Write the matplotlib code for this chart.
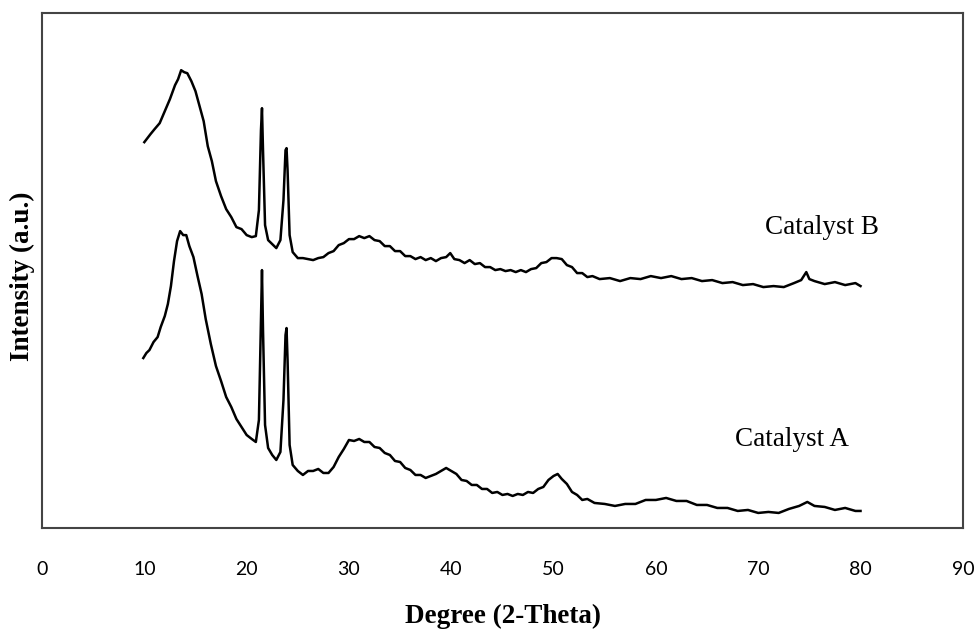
import matplotlib.pyplot as plt

# XRD patterns (intensity in arbitrary units)
two_theta_b = [10.0, 10.3, 10.6, 11.0, 11.5, 12.0, 12.5, 13.0, 13.3, 13.6, 13.9, 14.2, 14.6,
               15.0, 15.4, 15.8, 16.2, 16.6, 17.0, 17.5, 18.0, 18.5, 19.0, 19.5, 20.0, 20.5,
               20.9, 21.2, 21.4, 21.5, 21.6, 21.8, 22.1, 22.5, 22.9, 23.3, 23.6, 23.8, 23.9,
               24.0, 24.2, 24.5, 25.0, 25.5, 26.0, 26.5, 27.0, 27.5, 28.0, 28.5, 29.0, 29.5,
               30.0, 30.5, 31.0, 31.5, 32.0, 32.5, 33.0, 33.5, 34.0, 34.5, 35.0, 35.5, 36.0,
               36.5, 37.0, 37.5, 38.0, 38.5, 39.0, 39.5, 39.9, 40.3, 40.8, 41.3, 41.8, 42.3,
               42.8, 43.3, 43.8, 44.3, 44.8, 45.3, 45.8, 46.3, 46.8, 47.3, 47.8, 48.3, 48.8,
               49.3, 49.8, 50.3, 50.8, 51.3, 51.8, 52.3, 52.8, 53.3, 53.8, 54.5, 55.5, 56.5,
               57.5, 58.5, 59.5, 60.5, 61.5, 62.5, 63.5, 64.5, 65.5, 66.5, 67.5, 68.5, 69.5,
               70.5, 71.5, 72.5, 73.5, 74.2, 74.7, 75.0, 75.5, 76.5, 77.5, 78.5, 79.5, 80.0]
intensity_b = [386, 390, 394, 399, 405, 417, 429, 443, 449, 458, 456, 455, 447,
               437, 422, 407, 382, 367, 347, 332, 319, 311, 301, 299, 293, 291,
               292, 318, 398, 420, 378, 303, 288, 284, 280, 288, 328, 378, 380,
               358, 293, 276, 270, 270, 269, 268, 270, 271, 275, 277, 283, 285,
               289, 289, 292, 290, 292, 288, 287, 282, 282, 277, 277, 272, 272,
               269, 271, 268, 270, 267, 270, 271, 275, 269, 268, 265, 268, 264,
               265, 261, 261, 258, 259, 257, 258, 256, 258, 256, 259, 260, 265,
               266, 270, 270, 269, 263, 261, 255, 255, 251, 252, 249, 250, 247,
               250, 249, 252, 250, 252, 249, 250, 247, 248, 245, 246, 243, 244,
               241, 242, 241, 245, 248, 256, 249, 247, 244, 246, 243, 245, 242]

two_theta_a = [9.9, 10.2, 10.5, 10.9, 11.3, 11.6, 12.0, 12.3, 12.6, 12.9, 13.2, 13.5, 13.8,
               14.1, 14.4, 14.8, 15.2, 15.6, 16.0, 16.5, 17.0, 17.5, 18.0, 18.5, 19.0, 19.5,
               20.0, 20.5, 20.9, 21.2, 21.4, 21.5, 21.6, 21.8, 22.1, 22.5, 22.9, 23.3, 23.6,
               23.8, 23.9, 24.0, 24.2, 24.5, 25.0, 25.5, 26.0, 26.5, 27.0, 27.5, 28.0, 28.5,
               29.0, 29.5, 30.0, 30.5, 31.0, 31.5, 32.0, 32.5, 33.0, 33.5, 34.0, 34.5, 35.0,
               35.5, 36.0, 36.5, 37.0, 37.5, 38.0, 38.5, 39.0, 39.5, 40.0, 40.5, 41.0, 41.5,
               42.0, 42.5, 43.0, 43.5, 44.0, 44.5, 45.0, 45.5, 46.0, 46.5, 47.0, 47.5, 48.0,
               48.5, 49.0, 49.5, 50.0, 50.4, 50.8, 51.3, 51.8, 52.3, 52.8, 53.3, 54.0, 55.0,
               56.0, 57.0, 58.0, 59.0, 60.0, 61.0, 62.0, 63.0, 64.0, 65.0, 66.0, 67.0, 68.0,
               69.0, 70.0, 71.0, 72.0, 73.0, 74.0, 74.8, 75.5, 76.5, 77.5, 78.5, 79.5, 80.0]
intensity_a = [170, 175, 178, 186, 191, 201, 212, 224, 242, 267, 287, 297, 293,
               293, 282, 271, 252, 234, 209, 184, 162, 147, 131, 121, 109, 101,
               93, 89, 86, 108, 208, 258, 198, 103, 80, 73, 68, 76, 128,
               193, 200, 168, 83, 63, 57, 53, 57, 57, 59, 55, 55, 61,
               71, 79, 88, 87, 89, 86, 86, 81, 80, 75, 73, 67, 66,
               60, 58, 53, 53, 50, 52, 54, 57, 60, 57, 54, 48, 47,
               43, 43, 39, 39, 35, 36, 33, 34, 32, 34, 33, 36, 35,
               39, 41, 48, 52, 54, 49, 44, 36, 33, 28, 29, 25, 24,
               22, 24, 24, 28, 28, 30, 27, 27, 23, 23, 20, 20, 17,
               18, 15, 16, 15, 19, 22, 26, 22, 21, 18, 20, 17, 17]

fig = plt.figure(figsize=(9.77, 6.30), dpi=100)
ax = fig.add_axes([0.043, 0.162, 0.9425, 0.817])

ax.plot(two_theta_b, intensity_b, color='black', lw=1.8)
ax.plot(two_theta_a, intensity_a, color='black', lw=1.8)

ax.text(70.7, 301, 'Catalyst B', family='Liberation Serif', fontsize=19.5, va='center')
ax.text(67.7, 88, 'Catalyst A', family='Liberation Serif', fontsize=19.5, va='center')

ax.set_xlim(0, 90)
ax.set_ylim(0, 515)
ax.set_xticks(range(0, 91, 10))
ax.set_yticks([])
ax.tick_params(axis='x', length=0, pad=24, labelsize=14)
for lab in ax.get_xticklabels():
    lab.set_family('Lato')

for s in ax.spines.values():
    s.set_color('#444444')
    s.set_linewidth(1.5)

fig.text(0.515, 0.021, 'Degree (2-Theta)', family='Liberation Serif', fontsize=19.5,
         fontweight='bold', ha='center', va='center')
fig.text(0.0225, 0.562, 'Intensity (a.u.)', family='Liberation Serif', fontsize=19.5,
         fontweight='bold', ha='center', va='center', rotation=90)

fig.savefig('out.png', dpi=100)
